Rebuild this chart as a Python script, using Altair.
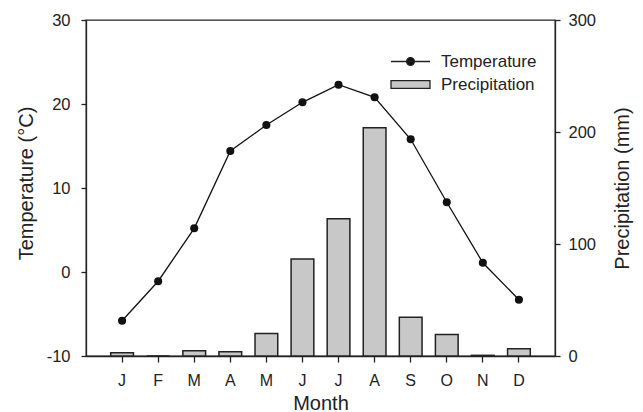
import altair as alt
import pandas as pd

# ---- data ----
month_num = list(range(1, 13))
month_labels = ["J", "F", "M", "A", "M", "J", "J", "A", "S", "O", "N", "D"]
temperature = [-5.8, -1.1, 5.2, 14.4, 17.5, 20.2, 22.3, 20.8, 15.8, 8.3, 1.1, -3.3]
precipitation = [3.0, 0.0, 4.7, 3.9, 20.2, 86.6, 122.6, 203.9, 34.5, 19.3, 0.6, 6.5]
temp_ticks = [-10, 0, 10, 20, 30]
precip_ticks = [0, 100, 200, 300]
series = ["Temperature", "Precipitation"]

df = pd.DataFrame({"month": month_num, "temp": temperature, "precip": precipitation})
legend_df = pd.DataFrame({"series": series})

FONT = "Liberation Sans"
INK = "#222222"

label_expr = "[" + ",".join("'%s'" % l for l in month_labels) + "][datum.value - 1]"

x_enc = alt.X(
    "month:O",
    scale=alt.Scale(type="band", paddingInner=0, paddingOuter=0.5),
    axis=alt.Axis(
        title="Month", labelExpr=label_expr, labelAngle=0, tickSize=6,
        labelPadding=10, labelFontSize=16, titleFontSize=20,
        titleFontWeight="normal", titleY=37, titleBaseline="top",
    ),
)

bars = alt.Chart(df).mark_bar(
    width=alt.RelativeBandSize(band=0.63), fill="#c8c8c8", stroke=INK, strokeWidth=1.5
).encode(
    x=x_enc,
    y=alt.Y(
        "precip:Q",
        scale=alt.Scale(domain=[0, 300], nice=False),
        axis=alt.Axis(
            orient="right", values=precip_ticks, title="Precipitation (mm)",
            labelExpr="'' + datum.value",
            tickSize=5, labelPadding=8, labelFontSize=16.5, titleFontSize=20,
            titleFontWeight="normal", titleAngle=270, titleX=57, titleY=168,
            titleAlign="center", titleBaseline="top",
        ),
    ),
)

line = alt.Chart(df).mark_line(
    color="#111111", strokeWidth=1.3,
    point=alt.OverlayMarkDef(filled=True, size=65, color="#111111", opacity=1),
).encode(
    x=x_enc,
    y=alt.Y(
        "temp:Q",
        scale=alt.Scale(domain=[-10, 30], nice=False),
        axis=alt.Axis(
            orient="left", values=temp_ticks, title="Temperature (°C)",
            labelExpr="'' + datum.value",
            tickSize=5, labelPadding=11, labelFontSize=16.5, titleFontSize=20,
            titleFontWeight="normal", titleAngle=270, titleX=-50, titleY=163,
            titleAlign="center", titleBaseline="bottom",
        ),
    ),
)

# legend symbols drawn at twice the unit box so that the row height stays small
temp_path = "M-2,0L2,0M0.4,0A0.4,0.4,0,1,1,-0.4,0A0.4,0.4,0,1,1,0.4,0Z"
precip_path = "M-2,-0.4L2,-0.4L2,0.4L-2,0.4Z"

leg = alt.Legend(
    title=None, orient="none", legendX=314, legendY=31, padding=0,
    symbolSize=380, symbolStrokeColor=INK, symbolStrokeWidth=1.3,
    symbolOpacity=1, labelFontSize=17, labelOffset=20, rowPadding=4,
    labelColor=INK, labelFont=FONT,
)

legend_layer = alt.Chart(legend_df).transform_filter("false").mark_point(
    filled=True, opacity=1, strokeWidth=1.3
).encode(
    fill=alt.Fill("series:N", scale=alt.Scale(domain=series, range=["#111111", "#c8c8c8"]), legend=leg),
    stroke=alt.Stroke("series:N", scale=alt.Scale(domain=series, range=[INK, INK]), legend=leg),
    shape=alt.Shape("series:N", scale=alt.Scale(domain=series, range=[temp_path, precip_path]), legend=leg),
)

chart = alt.layer(bars, line, legend_layer).resolve_scale(y="independent").properties(
    width=469, height=336,
    padding={"left": 86, "top": 20, "right": 88, "bottom": 56},
    autosize=alt.AutoSizeParams(type="none"),
).configure_view(
    stroke=INK, strokeWidth=1.3
).configure_axis(
    grid=False, domainColor=INK, tickColor=INK, labelColor=INK, titleColor=INK,
    labelFont=FONT, titleFont=FONT, domainWidth=1.3, tickWidth=1.3,
)

chart.save("out.html", embed_options={"renderer": "svg", "actions": False})
